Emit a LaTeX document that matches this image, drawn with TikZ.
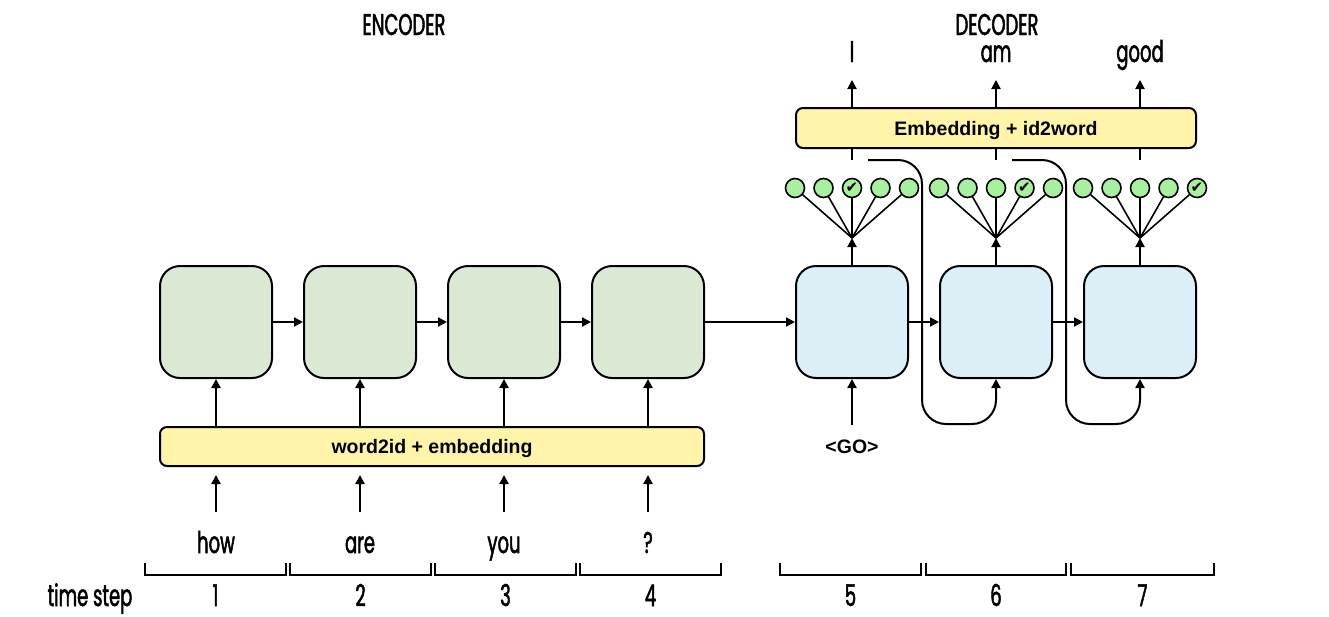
\documentclass[tikz,border=0pt]{standalone}
\usepackage{fontspec}
\setmainfont{Poppins}[FakeStretch=0.6, FakeBold=1.6]
\newfontfamily\lblfont{Liberation Sans}
\newfontfamily\symfont{DejaVu Sans}
\usetikzlibrary{arrows.meta}
\definecolor{encfill}{HTML}{DAE8D4}
\definecolor{decfill}{HTML}{DCEEF6}
\definecolor{yel}{HTML}{FFF4AA}
\definecolor{circ}{HTML}{A9EFA0}
\begin{document}
\begin{tikzpicture}[x=1pt,y=-1pt, line width=2pt,
 cell/.style={draw, rounded corners=20pt, minimum width=112pt, minimum height=112pt, inner sep=0pt},
 encc/.style={cell, fill=encfill},
 decc/.style={cell, fill=decfill},
 bar/.style={draw, fill=yel, rounded corners=7pt, inner sep=0pt, text height=14pt, text depth=0pt, font=\lblfont\bfseries\fontsize{19.5}{21}\selectfont},
 word/.style={font=\fontsize{30}{32}\selectfont, inner sep=0pt, anchor=base},
 lbl/.style={font=\lblfont\bfseries\fontsize{19.5}{21}\selectfont, inner sep=0pt},
 arr/.style={-{Triangle[length=9pt,width=9pt]}},
 sm/.style={circle, draw, fill=circ, minimum size=19pt, inner sep=0pt, line width=1.6pt},
 brk/.style={line width=1.8pt}
]
\fill[white] (0,0) rectangle (1329,616);
\useasboundingbox (0,0) rectangle (1329,616);

% titles
\node[word] (enct) at (404,35) {ENCODER};
\node[word] (dect) at (997,35) {DECODER};

% encoder cells
\foreach \i/\x in {1/216,2/360,3/504,4/648}{
  \node[encc] (enc\i) at (\x,322) {};
}
% decoder cells
\foreach \i/\x in {1/852,2/996,3/1140}{
  \node[decc] (dec\i) at (\x,322) {};
}

% bars
\node[bar, minimum width=544pt, minimum height=39pt] (w2e) at (432,446.5) {word2id + embedding};
\node[bar, minimum width=400pt, minimum height=40pt] (e2w) at (996,128) {Embedding + id2word};

% recurrent arrows
\draw[arr] (enc1.east) -- (enc2.west);
\draw[arr] (enc2.east) -- (enc3.west);
\draw[arr] (enc3.east) -- (enc4.west);
\draw[arr] (enc4.east) -- (dec1.west);
\draw[arr] (dec1.east) -- (dec2.west);
\draw[arr] (dec2.east) -- (dec3.west);

% encoder inputs
\foreach \i/\x/\w in {1/216/how,2/360/are,3/504/you,4/648/?}{
  \node[word] (in\i) at (\x,553) {\w};
  \coordinate (ib\i) at (\x,512);
  \coordinate (ie\i) at (\x,475);
  \draw[arr] (ib\i) -- (ie\i);
  \draw[arr] (w2e.north -| enc\i) -- (enc\i.south);
}

% GO
\node[lbl] (go) at (852,447) {<GO>};
\coordinate (gos) at (852,425);
\draw[arr] (gos) -- (dec1.south);

% softmax circles
\foreach \g/\cx/\ck in {1/852/3,2/996/4,3/1140/5}{
  \coordinate (ap\g) at (\cx,238);
  \foreach \k in {1,...,5}{
    \node[sm] (c\g\k) at ({\cx+(\k-3)*28.5},188) {\ifnum\k=\ck\relax\symfont\fontsize{15}{15}\selectfont ✔\fi};
    \draw[line width=1.6pt] (c\g\k) -- (ap\g);
  }
  \draw[arr] (dec\g.north) -- (ap\g);
  \coordinate (t\g) at (\cx,160);
  \draw (t\g) -- (t\g |- e2w.south);
  \coordinate (o\g) at (\cx,80);
  \draw[arr] (e2w.north -| o\g) -- (o\g);
}
\node[word] (out1) at (852,62) {I};
\node[word] (out2) at (996,62) {am};
\node[word] (out3) at (1140,62) {good};

% feedback loops
\coordinate (fa1) at (868,160);
\coordinate (fb1) at (922,160);
\coordinate (fc1) at (922,424);
\coordinate (fd1) at (996,424);
\draw[arr, rounded corners=24pt] (fa1) -- (fb1) -- (fc1) -- (fd1) -- (dec2.south);
\coordinate (fa2) at (1012,160);
\coordinate (fb2) at (1066,160);
\coordinate (fc2) at (1066,424);
\coordinate (fd2) at (1140,424);
\draw[arr, rounded corners=24pt] (fa2) -- (fb2) -- (fc2) -- (fd2) -- (dec3.south);

% time step brackets
\foreach \i/\a/\b/\n in {1/145/286/1,2/290/431/2,3/435/576/3,4/580/721/4,5/780/921/5,6/926/1066/6,7/1071/1214/7}{
  \coordinate (bl\i) at (\a,563);
  \coordinate (br\i) at (\b,563);
  \draw[brk] (bl\i) -- ++(0,12) -| (br\i);
  \node[word] (ts\i) at ({(\a+\b)/2},606) {\n};
}
\node[word] (tsl) at (90,606) {time step};
\end{tikzpicture}
\end{document}
